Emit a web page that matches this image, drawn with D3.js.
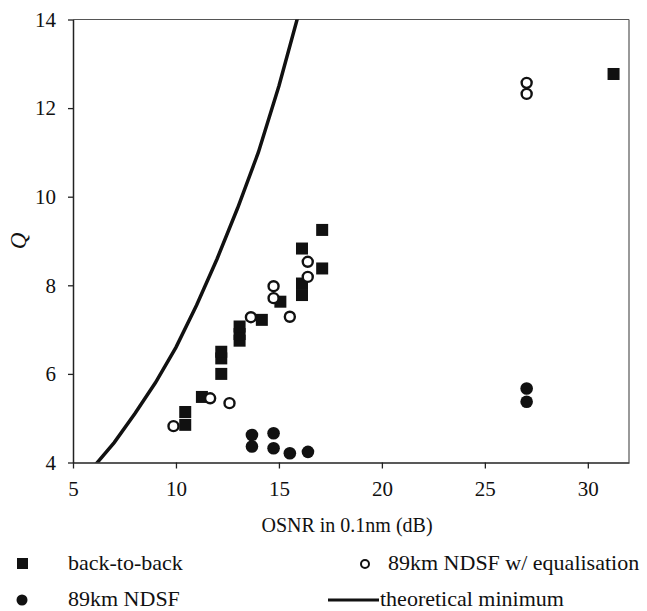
<html>
<script src="https://d3js.org/d3.v7.min.js"></script>
<style>
  body { margin: 0; background: #fff; }
  svg text { font-family: "Liberation Serif", "DejaVu Serif", serif !important; fill: #111; }
</style>
<body>
<script>
    var width = 647, height = 611
    var svg = d3.select('body').append('svg').attr('width', width).attr('height', height)
        .attr('font-family', 'Liberation Serif')

    // back-to-back (filled squares)
    var b2bX = [10.45, 10.45, 11.26, 12.2, 12.2, 12.2, 13.09, 13.09, 13.09, 14.17, 15.07, 16.12, 16.12, 16.12, 17.1, 17.1, 31.25]
    var b2bQ = [5.14, 4.85, 5.48, 6.0, 6.35, 6.5, 6.75, 6.9, 7.07, 7.22, 7.63, 7.78, 8.04, 8.83, 8.38, 9.25, 12.77]
    // 89km NDSF (filled circles)
    var ndsfX = [13.69, 13.69, 14.74, 14.74, 15.53, 16.41, 27.03, 27.03]
    var ndsfQ = [4.62, 4.36, 4.66, 4.32, 4.21, 4.24, 5.67, 5.37]
    // 89km NDSF w/ equalisation (open circles)
    var eqX = [9.88, 11.66, 12.6, 13.64, 14.74, 14.74, 15.53, 16.4, 16.4, 27.03, 27.03]
    var eqQ = [4.82, 5.45, 5.34, 7.28, 7.98, 7.71, 7.29, 8.53, 8.19, 12.57, 12.32]
    // theoretical minimum
    var theoryX = [6, 7, 8, 9, 10, 11, 12, 13, 14, 15, 16]
    var theoryQ = [3.9, 4.45, 5.1, 5.8, 6.6, 7.55, 8.6, 9.75, 11.0, 12.5, 14.2]

    var xTicks = [5, 10, 15, 20, 25, 30]
    var yTicks = [4, 6, 8, 10, 12, 14]

    var x = d3.scaleLinear().domain([5, 32]).range([73, 629])
    var y = d3.scaleLinear().domain([4, 14]).range([462.5, 19.5])

    var zip = function(a, b) { return a.map(function(v, i) { return [v, b[i]] }) }

    // frame (top / right)
    svg.append('line').attr('x1', x(5)).attr('x2', x(32)).attr('y1', y(14)).attr('y2', y(14))
        .attr('stroke', '#555').attr('stroke-width', 1.2)
    svg.append('line').attr('x1', x(32)).attr('x2', x(32)).attr('y1', y(14)).attr('y2', y(4))
        .attr('stroke', '#555').attr('stroke-width', 1.2)

    var xAxis = svg.append('g').attr('transform', `translate(0, ${y(4)})`)
        .call(d3.axisBottom(x).tickValues(xTicks).tickSize(6).tickPadding(13).tickSizeOuter(0))
    var yAxis = svg.append('g').attr('transform', `translate(${x(5)}, 0)`)
        .call(d3.axisLeft(y).tickValues(yTicks).tickSize(5).tickPadding(12).tickSizeOuter(0))
    svg.selectAll('g').attr('font-family', 'Liberation Serif')
    svg.selectAll('.domain').attr('stroke', '#222').attr('stroke-width', 1.5)
    svg.selectAll('.tick line').attr('stroke', '#222').attr('stroke-width', 1.3)
    svg.selectAll('.tick text').style('font-size', '21px').attr('fill', '#111')

    svg.append('text').attr('x', (x(5) + x(32)) / 2 - 4).attr('y', 532).attr('text-anchor', 'middle')
        .style('font-size', '20px').text('OSNR in 0.1nm (dB)')
    svg.append('text').attr('transform', `translate(26, ${y(9)}) rotate(-90)`).attr('text-anchor', 'middle')
        .style('font-size', '23px').style('font-style', 'italic').text('Q')

    // theoretical curve clipped to plot
    svg.append('clipPath').attr('id', 'plot').append('rect')
        .attr('x', x(5)).attr('y', y(14)).attr('width', x(32) - x(5)).attr('height', y(4) - y(14))
    svg.append('path').datum(zip(theoryX, theoryQ))
        .attr('clip-path', 'url(#plot)')
        .attr('fill', 'none').attr('stroke', '#111').attr('stroke-width', 3.5)
        .attr('d', d3.line().x(function(d) { return x(d[0]) }).y(function(d) { return y(d[1]) }))

    var s = 12
    svg.append('g').selectAll('rect').data(zip(b2bX, b2bQ)).enter().append('rect')
        .attr('x', function(d) { return x(d[0]) - s / 2 }).attr('y', function(d) { return y(d[1]) - s / 2 })
        .attr('width', s).attr('height', s).attr('fill', '#111')
    svg.append('g').selectAll('circle').data(zip(ndsfX, ndsfQ)).enter().append('circle')
        .attr('cx', function(d) { return x(d[0]) }).attr('cy', function(d) { return y(d[1]) })
        .attr('r', 6.3).attr('fill', '#111')
    svg.append('g').selectAll('circle').data(zip(eqX, eqQ)).enter().append('circle')
        .attr('cx', function(d) { return x(d[0]) }).attr('cy', function(d) { return y(d[1]) })
        .attr('r', 5).attr('fill', '#fff').attr('stroke', '#111').attr('stroke-width', 2.4)

    // legend
    var lg = svg.append('g')
    lg.append('rect').attr('x', 17).attr('y', 558).attr('width', 11).attr('height', 11).attr('fill', '#111')
    lg.append('text').attr('x', 68).attr('y', 570).style('font-size', '22px').text('back-to-back')
    lg.append('circle').attr('cx', 365).attr('cy', 564).attr('r', 4).attr('fill', '#fff').attr('stroke', '#111').attr('stroke-width', 2)
    lg.append('text').attr('x', 388).attr('y', 570).style('font-size', '22px').text('89km NDSF w/ equalisation')
    lg.append('circle').attr('cx', 22).attr('cy', 600).attr('r', 5.5).attr('fill', '#111')
    lg.append('text').attr('x', 68).attr('y', 606).style('font-size', '22px').text('89km NDSF')
    lg.append('line').attr('x1', 328).attr('x2', 379).attr('y1', 600).attr('y2', 600).attr('stroke', '#111').attr('stroke-width', 3)
    lg.append('text').attr('x', 380).attr('y', 606).style('font-size', '22px').text('theoretical minimum')
</script>
</body>
</html>
